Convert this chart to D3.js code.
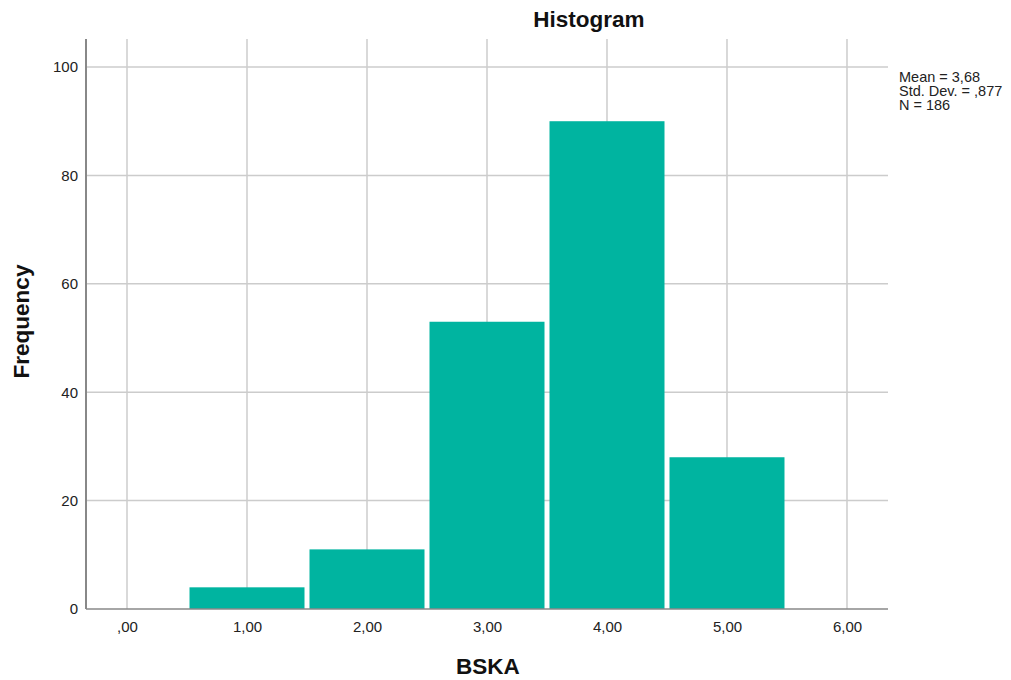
<!DOCTYPE html>
<html>
<head>
<meta charset="utf-8">
<script src="https://cdn.jsdelivr.net/npm/d3@7"></script>
<style>
body{margin:0;background:#fff;}
text{font-family:"Liberation Sans",Arial,sans-serif;}
</style>
</head>
<body>
<svg id="chart" width="1011" height="680"></svg>
<script>
const binStarts = [0.5, 1.5, 2.5, 3.5, 4.5];
const binEnds = [1.5, 2.5, 3.5, 4.5, 5.5];
const frequencies = [4, 11, 53, 90, 28];
const xTicks = [0, 1, 2, 3, 4, 5, 6];
const xTickLabels = [",00", "1,00", "2,00", "3,00", "4,00", "5,00", "6,00"];
const yTicks = [0, 20, 40, 60, 80, 100];
const statsLines = ["Mean = 3,68", "Std. Dev. = ,877", "N = 186"];

const svg = d3.select("#chart");
const pLeft = 86, pRight = 888, pTop = 39, pBottom = 609;

const x = d3.scaleLinear().domain([-0.3417, 6.3417]).range([pLeft, pRight]);
const y = d3.scaleLinear().domain([0, 105.17]).range([pBottom, pTop]);

const grid = svg.append("g");
grid.selectAll("line.v").data(xTicks).enter().append("line")
  .attr("x1", d => x(d)).attr("x2", d => x(d))
  .attr("y1", pTop).attr("y2", pBottom)
  .attr("stroke", "#cccccc").attr("stroke-width", 1.5);
grid.selectAll("line.h").data(yTicks.filter(d => d > 0)).enter().append("line")
  .attr("x1", pLeft).attr("x2", pRight)
  .attr("y1", d => y(d)).attr("y2", d => y(d))
  .attr("stroke", "#cccccc").attr("stroke-width", 1.5);

const bins = frequencies.map((f, i) => ({x0: binStarts[i], x1: binEnds[i], f}));
svg.append("g").selectAll("rect").data(bins).enter().append("rect")
  .attr("x", d => x(d.x0) + 2.5)
  .attr("width", d => x(d.x1) - x(d.x0) - 5)
  .attr("y", d => y(d.f))
  .attr("height", d => y(0) - y(d.f))
  .attr("fill", "#00b4a0");

// axes
const xAxis = d3.axisBottom(x).tickValues(xTicks).tickFormat((d, i) => xTickLabels[i]).tickSize(0).tickPadding(12);
const gx = svg.append("g").attr("transform", `translate(0,${pBottom})`).call(xAxis);
gx.select(".domain").attr("d", `M${pLeft},0H${pRight}`).attr("stroke", "#888").attr("stroke-width", 1.5);
gx.selectAll("text").attr("font-size", 15).attr("fill", "#222").attr("font-family", "Liberation Sans, Arial, sans-serif");

const yAxis = d3.axisLeft(y).tickValues(yTicks).tickSize(0).tickPadding(8);
const gy = svg.append("g").attr("transform", `translate(${pLeft},0)`).call(yAxis);
gy.select(".domain").attr("d", `M0,${pTop}V${pBottom}`).attr("stroke", "#888").attr("stroke-width", 2);
gy.selectAll("text").attr("font-size", 15).attr("fill", "#222").attr("font-family", "Liberation Sans, Arial, sans-serif");

// titles
svg.append("text").attr("x", 589).attr("y", 27).attr("text-anchor", "middle")
  .attr("font-size", 22.5).attr("font-weight", "bold").attr("fill", "#111").text("Histogram");
svg.append("text").attr("x", 488).attr("y", 674).attr("text-anchor", "middle")
  .attr("font-size", 22.5).attr("font-weight", "bold").attr("fill", "#111").text("BSKA");
svg.append("text").attr("transform", "translate(29,321.5) rotate(-90)").attr("text-anchor", "middle")
  .attr("font-size", 22.5).attr("font-weight", "bold").attr("fill", "#111").text("Frequency");

svg.append("g").selectAll("text").data(statsLines).enter().append("text")
  .attr("x", 899).attr("y", (d, i) => 82 + i * 14)
  .attr("font-size", 14.5).attr("fill", "#222").text(d => d);
</script>
</body>
</html>
